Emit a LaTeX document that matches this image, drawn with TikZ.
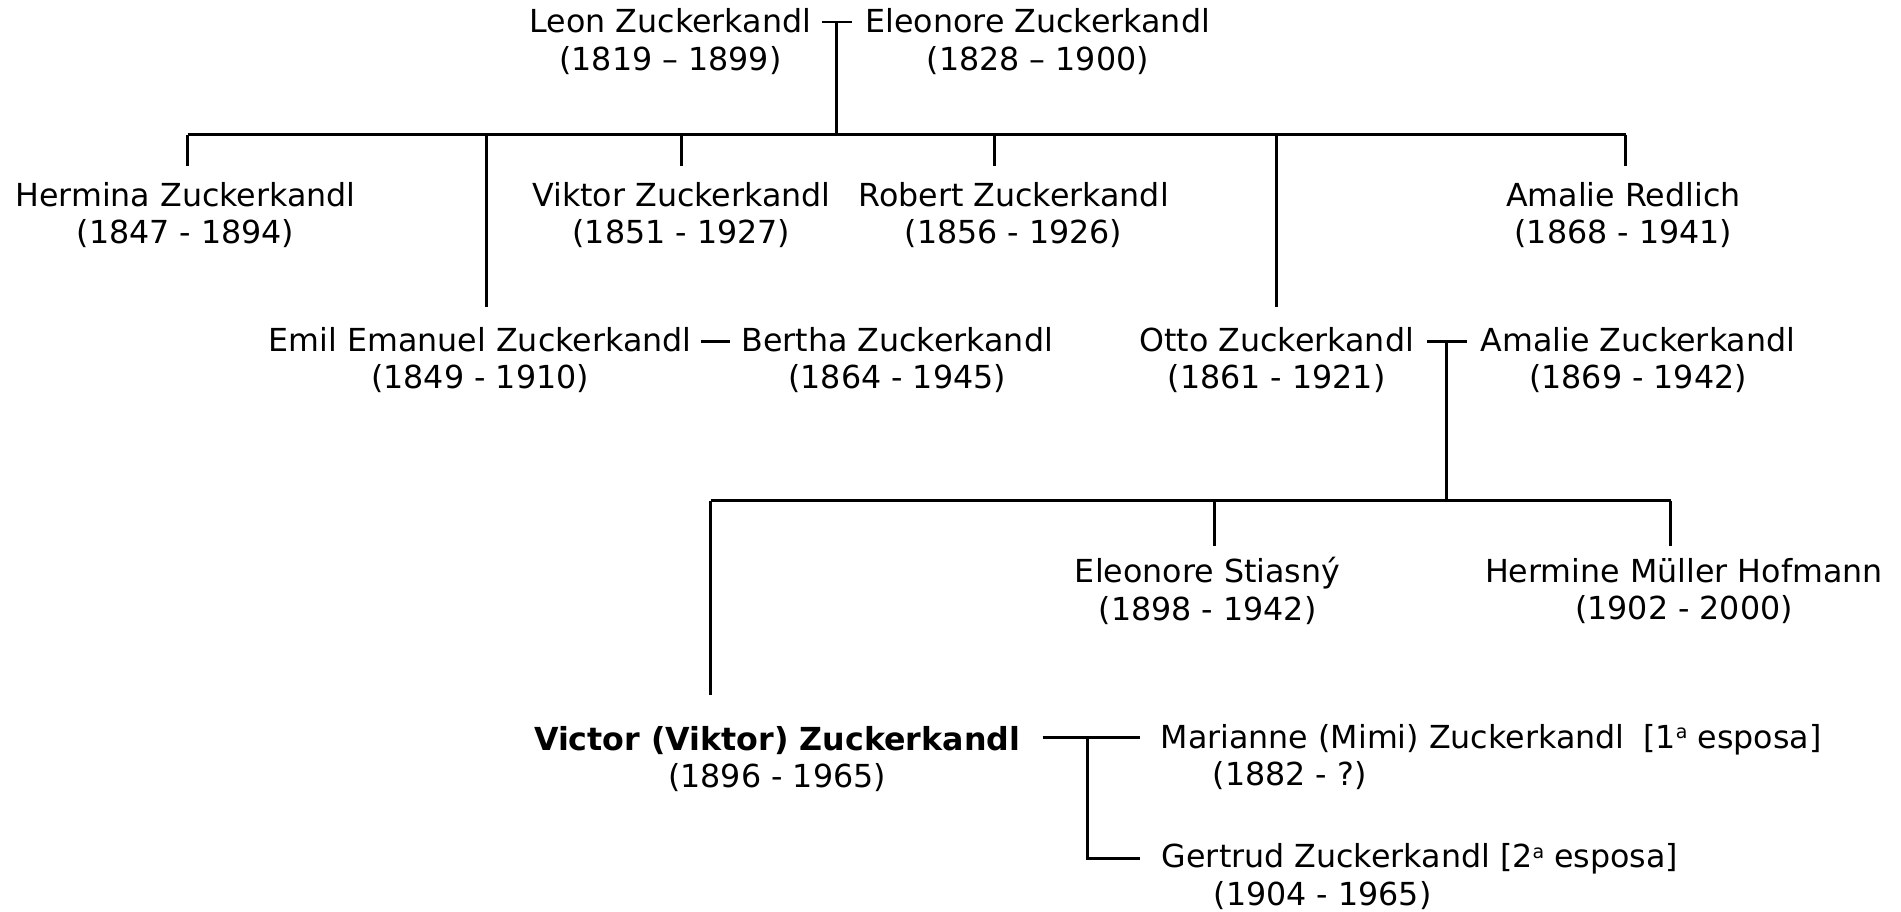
\documentclass[tikz,border=0pt]{standalone}
\usepackage{fontspec}
\setmainfont{DejaVu Sans}
\newcommand{\ordsup}{\raisebox{0.3em}{\fontsize{9.5}{9.5}\selectfont a}}
\begin{document}
\begin{tikzpicture}[x=0.5pt,y=-0.5pt,
  person/.style={inner sep=0pt, align=center, font=\fontsize{15.85}{18.8}\selectfont},
  spouse/.style={inner sep=0pt, align=left, anchor=west, font=\fontsize{15.85}{18.8}\selectfont},
  link/.style={line width=1.45pt}]
\useasboundingbox (0,0) rectangle (1901,911);

% generation 1
\node[person] (leon) at (670.5,41.8) {Leon Zuckerkandl\\(1819 – 1899)};
\node[person] (eleo) at (1037.8,41.8) {Eleonore Zuckerkandl\\(1828 – 1900)};
\coordinate (m1l) at (822,22);
\coordinate (m1r) at (852,22);
\coordinate (m1) at (836.6,22);
\coordinate (m1b) at (836.6,134.6);
\coordinate (bar1l) at (187.9,134.6);
\coordinate (bar1r) at (1625.8,134.6);
\draw[link] (m1l) -- (m1r);
\draw[link] (m1) -- (m1b);
\draw[link] (bar1l) -- (bar1r);

% generation 2
\node[person] (hermina) at (185.5,215.2) {Hermina Zuckerkandl\\(1847 - 1894)};
\node[person] (viktor) at (681.4,215.2) {Viktor Zuckerkandl\\(1851 - 1927)};
\node[person] (robert) at (1013.6,215.2) {Robert Zuckerkandl\\(1856 - 1926)};
\node[person] (amalier) at (1623.4,215.2) {Amalie Redlich\\(1868 - 1941)};
\node[person] (emil) at (480.1,360.1) {Emil Emanuel Zuckerkandl\\(1849 - 1910)};
\node[person] (bertha) at (897.2,360.1) {Bertha Zuckerkandl\\(1864 - 1945)};
\node[person] (otto) at (1276.7,360.1) {Otto Zuckerkandl\\(1861 - 1921)};
\node[person] (amaliez) at (1638,360.1) {Amalie Zuckerkandl\\(1869 - 1942)};

\coordinate (d1t) at (187.9,134.6);  \coordinate (d1b) at (187.9,166.1);
\coordinate (d2t) at (486.2,134.6);  \coordinate (d2b) at (486.2,306.7);
\coordinate (d3t) at (681.4,134.6);  \coordinate (d3b) at (681.4,166.1);
\coordinate (d4t) at (994.2,134.6);  \coordinate (d4b) at (994.2,166.1);
\coordinate (d5t) at (1276.7,134.6); \coordinate (d5b) at (1276.7,306.7);
\coordinate (d6t) at (1625.8,134.6); \coordinate (d6b) at (1625.8,166.1);
\foreach \i in {1,...,6} \draw[link] (d\i t) -- (d\i b);

\coordinate (m2l) at (700.8,341.9);
\coordinate (m2r) at (729.9,341.9);
\draw[link] (m2l) -- (m2r);

\coordinate (m3l) at (1427,341.9);
\coordinate (m3r) at (1467,341.9);
\coordinate (m3) at (1446.4,341.9);
\coordinate (m3b) at (1446.4,500.7);
\draw[link] (m3l) -- (m3r);
\draw[link] (m3) -- (m3b);

% generation 3
\coordinate (bar2l) at (710.5,500.7);
\coordinate (bar2r) at (1670.7,500.7);
\draw[link] (bar2l) -- (bar2r);
\coordinate (e1t) at (710.5,500.7);  \coordinate (e1b) at (710.5,694.7);
\coordinate (e2t) at (1214.8,500.7); \coordinate (e2b) at (1214.8,545.6);
\coordinate (e3t) at (1670.7,500.7); \coordinate (e3b) at (1670.7,545.6);
\foreach \i in {1,2,3} \draw[link] (e\i t) -- (e\i b);

\node[person] (stiasny) at (1207.6,591) {Eleonore Stiasný\\(1898 - 1942)};
\node[person] (hermine) at (1684,591) {Hermine Müller Hofmann\\(1902 - 2000)};

\node[person] (victor) at (777.1,759) {\textbf{Victor (Viktor) Zuckerkandl}\\(1896 - 1965)};
\node[spouse] (marianne) at (1160.3,757.2) {Marianne (Mimi) Zuckerkandl\hspace{0.6em}[1\ordsup{} esposa]\\\hspace*{26pt}(1882 - ?)};
\node[spouse] (gertrud) at (1161.5,876.5) {Gertrud Zuckerkandl [2\ordsup{} esposa]\\\hspace*{26pt}(1904 - 1965)};

\coordinate (v1) at (1042.7,737.1);
\coordinate (v2) at (1139.7,737.1);
\coordinate (vj) at (1087.5,737.1);
\coordinate (vb) at (1087.5,858.4);
\coordinate (v3) at (1139.7,858.4);
\draw[link] (v1) -- (v2);
\draw[link, line join=miter] (vj) -- (vb) -- (v3);
\end{tikzpicture}
\end{document}
